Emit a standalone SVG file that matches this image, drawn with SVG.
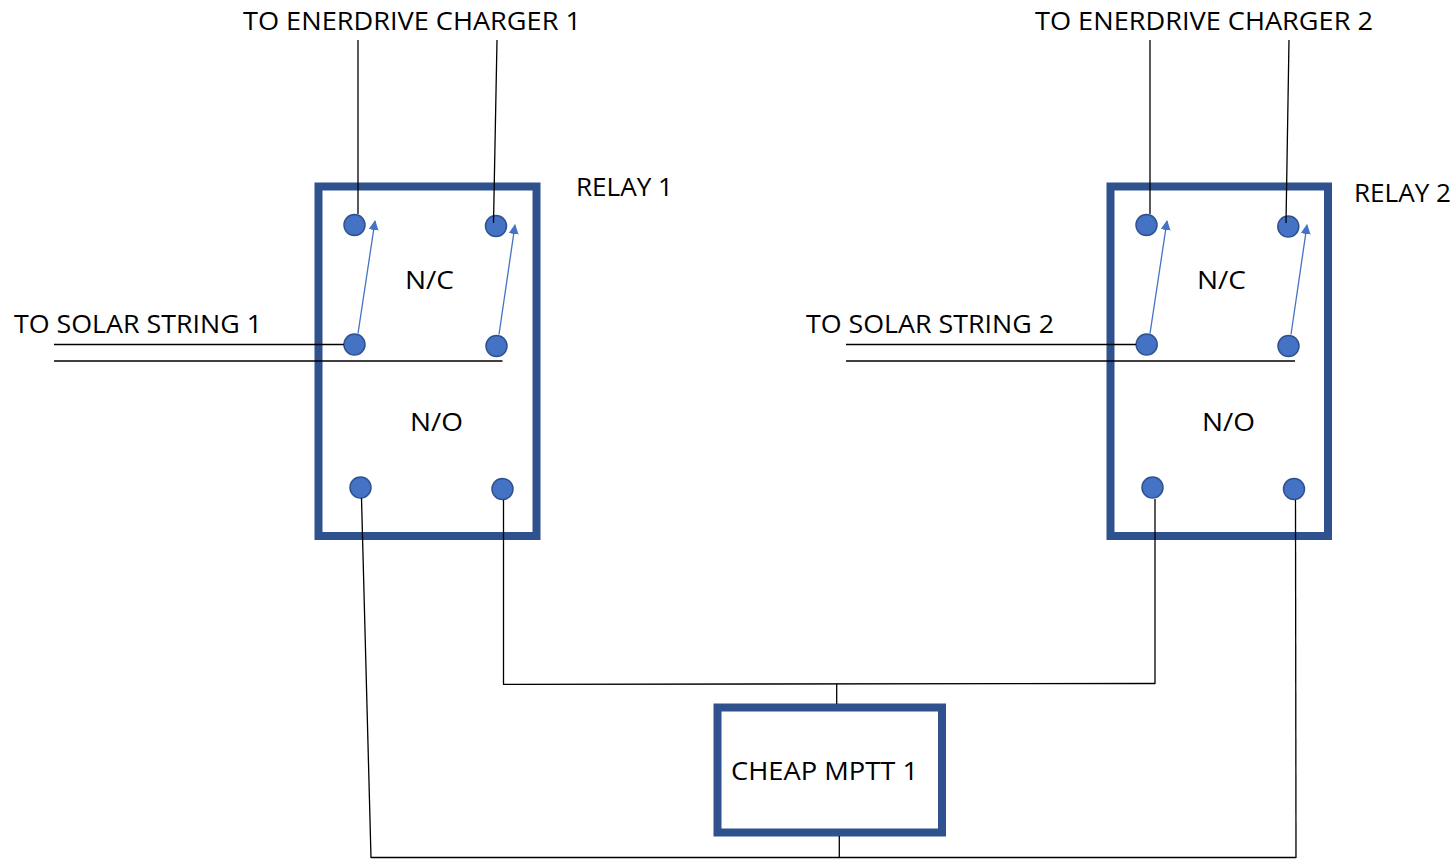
<svg xmlns="http://www.w3.org/2000/svg" width="1456" height="860" viewBox="0 0 1456 860">
<style>
.box{fill:#fff;stroke:#2F528F;stroke-width:8}
.pin{fill:#4472C4;stroke:#2F528F;stroke-width:1.5}
.w{stroke:#000;stroke-width:1.3;fill:none}
.sw{stroke:#4472C4;stroke-width:1.3;fill:none;marker-end:url(#ah)}
text{font-family:"Open Sans","Liberation Sans",sans-serif;font-size:25px;fill:#000}
</style>
<defs>
<marker id="ah" markerWidth="10" markerHeight="10" refX="9" refY="5" orient="auto" markerUnits="userSpaceOnUse">
<path d="M0,0 L10,5 L0,10 z" fill="#4472C4"/>
</marker>
</defs>
<rect width="1456" height="860" fill="#fff"/>
<g id="relay1">
<rect class="box" x="318.5" y="186.5" width="218" height="349.5"/>
<text x="576" y="196" textLength="97" lengthAdjust="spacingAndGlyphs">RELAY 1</text>
<text x="405" y="289" textLength="49" lengthAdjust="spacingAndGlyphs">N/C</text>
<text x="410" y="431" textLength="53" lengthAdjust="spacingAndGlyphs">N/O</text>
<circle class="pin" cx="354.5" cy="225" r="10.5"/>
<circle class="pin" cx="496" cy="226" r="10.5"/>
<circle class="pin" cx="354.5" cy="344.5" r="10.5"/>
<circle class="pin" cx="496.5" cy="346" r="10.5"/>
<circle class="pin" cx="360.5" cy="487.5" r="10.5"/>
<circle class="pin" cx="502.5" cy="489" r="10.5"/>
</g>
<g id="relay2">
<rect class="box" x="1110.5" y="186.5" width="217.5" height="349.5"/>
<text x="1354" y="202" textLength="97" lengthAdjust="spacingAndGlyphs">RELAY 2</text>
<text x="1197" y="289" textLength="49" lengthAdjust="spacingAndGlyphs">N/C</text>
<text x="1202" y="431" textLength="53" lengthAdjust="spacingAndGlyphs">N/O</text>
<circle class="pin" cx="1146.5" cy="225" r="10.5"/>
<circle class="pin" cx="1288.3" cy="226.5" r="10.5"/>
<circle class="pin" cx="1146.7" cy="344.5" r="10.5"/>
<circle class="pin" cx="1288.5" cy="346" r="10.5"/>
<circle class="pin" cx="1152.5" cy="487.5" r="10.5"/>
<circle class="pin" cx="1294" cy="489" r="10.5"/>
</g>
<g id="mptt">
<rect class="box" x="717.5" y="707.5" width="224.5" height="125"/>
<text x="731" y="780" textLength="187" lengthAdjust="spacingAndGlyphs">CHEAP MPTT 1</text>
</g>
<g id="labels">
<text x="243" y="30" textLength="338" lengthAdjust="spacingAndGlyphs">TO ENERDRIVE CHARGER 1</text>
<text x="1035" y="30" textLength="338" lengthAdjust="spacingAndGlyphs">TO ENERDRIVE CHARGER 2</text>
<text x="14" y="333" textLength="248" lengthAdjust="spacingAndGlyphs">TO SOLAR STRING 1</text>
<text x="806" y="333" textLength="248" lengthAdjust="spacingAndGlyphs">TO SOLAR STRING 2</text>
</g>
<g id="connectors">
<line class="w" x1="358" y1="40" x2="358" y2="214"/>
<line class="w" x1="497" y1="40" x2="493.5" y2="223"/>
<line class="w" x1="1150" y1="40" x2="1150" y2="214"/>
<line class="w" x1="1289" y1="40" x2="1286" y2="223"/>
<line class="w" x1="54" y1="344.5" x2="344" y2="344.5"/>
<line class="w" x1="54" y1="361" x2="502.5" y2="361"/>
<line class="w" x1="846" y1="344.5" x2="1136" y2="344.5"/>
<line class="w" x1="846" y1="361" x2="1295" y2="361"/>
<line class="w" x1="361.5" y1="498" x2="371" y2="858"/>
<line class="w" x1="503.5" y1="500" x2="503.5" y2="684"/>
<line class="w" x1="1155" y1="499" x2="1155" y2="684"/>
<line class="w" x1="1295.5" y1="500" x2="1296" y2="858"/>
<line class="w" x1="503" y1="684.3" x2="1155" y2="683.5"/>
<line class="w" x1="836.7" y1="684" x2="836.7" y2="704"/>
<line class="w" x1="371" y1="857.5" x2="1296" y2="857.5"/>
<line class="w" x1="839.3" y1="836" x2="839.3" y2="857"/>
<line class="sw" x1="358" y1="333.5" x2="375" y2="221"/>
<line class="sw" x1="499" y1="334.5" x2="515" y2="225"/>
<line class="sw" x1="1150" y1="333.5" x2="1167" y2="221"/>
<line class="sw" x1="1291" y1="334.5" x2="1307" y2="225"/>
</g>
</svg>
